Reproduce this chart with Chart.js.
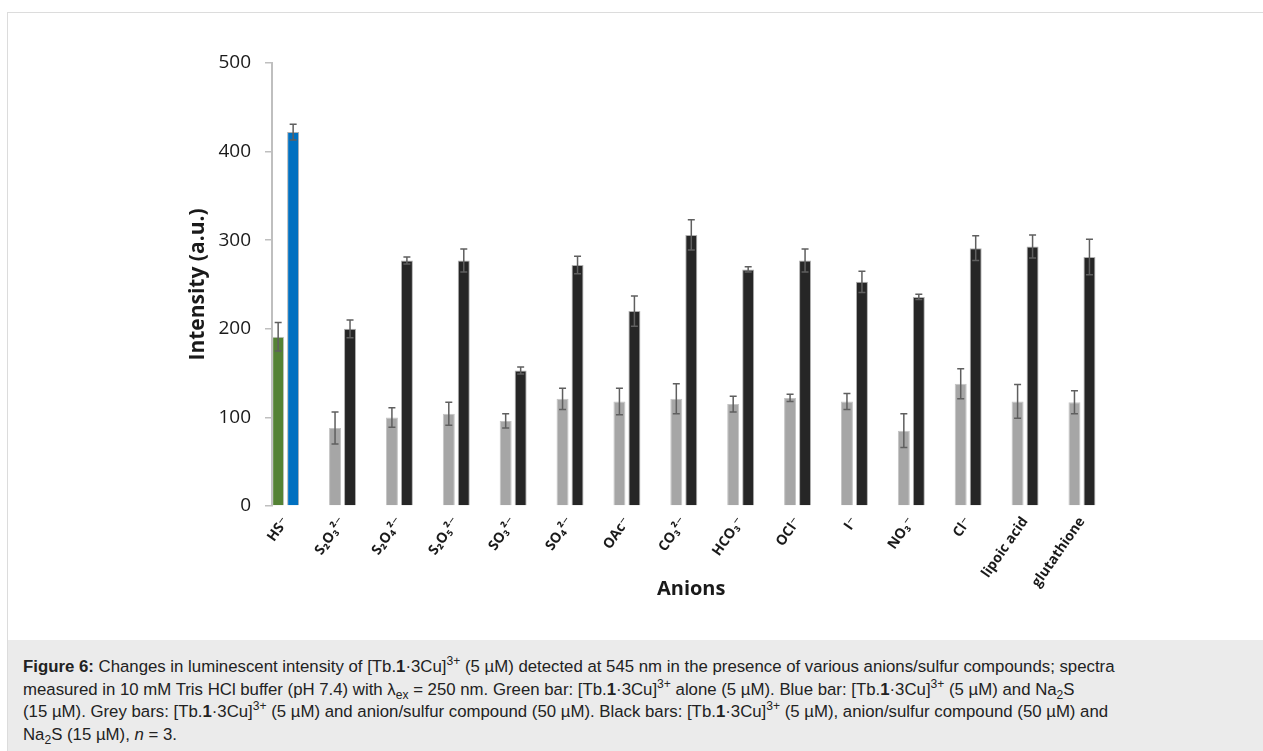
<!DOCTYPE html>
<html>
<head>
<meta charset="utf-8">
<script src="https://cdn.jsdelivr.net/npm/chart.js@4/dist/chart.umd.min.js"></script>
<style>
  html, body { margin: 0; padding: 0; background: #fff; }
  body { width: 1263px; height: 751px; position: relative; overflow: hidden; }
  #frame {
    position: absolute; left: 7px; top: 12px; width: 1256px; height: 739px;
    border-top: 1px solid #dcdcdc; border-left: 1px solid #dcdcdc;
  }
  #chartBox { position: absolute; left: 8px; top: 13px; width: 1255px; height: 627px; }
  #caption {
    position: absolute; left: 8px; top: 640px; width: 1255px; height: 111px;
    background: #ebebeb; box-sizing: border-box; padding: 16px 0 0 15px;
    font-family: "Liberation Sans", Arial, sans-serif; font-size: 16.8px;
    line-height: 22.5px; color: #222; white-space: nowrap;
  }
  #caption sup, #caption sub { font-size: 0.72em; line-height: 0; }
</style>
</head>
<body>
<div id="frame"></div>
<div id="chartBox"><canvas id="myChart" width="1255" height="627"></canvas></div>
<div id="caption">
<b>Figure 6:</b> Changes in luminescent intensity of [Tb.<b>1</b>·3Cu]<sup>3+</sup> (5 µM) detected at 545 nm in the presence of various anions/sulfur compounds; spectra<br>
measured in 10 mM Tris HCl buffer (pH 7.4) with λ<sub>ex</sub> = 250 nm. Green bar: [Tb.<b>1</b>·3Cu]<sup>3+</sup> alone (5 µM). Blue bar: [Tb.<b>1</b>·3Cu]<sup>3+</sup> (5 µM) and Na<sub>2</sub>S<br>
(15 µM). Grey bars: [Tb.<b>1</b>·3Cu]<sup>3+</sup> (5 µM) and anion/sulfur compound (50 µM). Black bars: [Tb.<b>1</b>·3Cu]<sup>3+</sup> (5 µM), anion/sulfur compound (50 µM) and<br>
Na<sub>2</sub>S (15 µM), <i>n</i> = 3.
</div>
<script>
// anions along the x axis
const anions = ['HS⁻', 'S₂O₃²⁻', 'S₂O₄²⁻', 'S₂O₅²⁻', 'SO₃²⁻', 'SO₄²⁻', 'OAc⁻', 'CO₃²⁻',
  'HCO₃⁻', 'OCl⁻', 'I⁻', 'NO₃⁻', 'Cl⁻', 'lipoic acid', 'glutathione'];

// first bar of each pair (green for HS-, grey for the others) and its error
const firstBar = [191, 88, 100, 104, 96, 121, 118, 121, 115, 122, 118, 85, 138, 118, 117];
const firstErr = [16, 18, 11, 13, 8, 12, 15, 17, 9, 4, 9, 19, 17, 19, 13];

// second bar of each pair (blue for HS-, black for the others) and its error
const secondBar = [422, 200, 277, 277, 153, 272, 220, 306, 267, 277, 253, 236, 291, 293, 281];
const secondErr = [9, 10, 4, 13, 4, 10, 17, 17, 3, 13, 12, 3, 14, 13, 20];

const yTicks = [0, 100, 200, 300, 400, 500];

const firstColors = anions.map((a, i) => i === 0 ? '#548235' : '#a6a6a6');
const secondColors = anions.map((a, i) => i === 0 ? '#0070c0' : '#262626');

// draws the error bars on top of each bar
const errorBars = {
  id: 'errorBars',
  afterDatasetsDraw(chart) {
    const ctx = chart.ctx;
    const yScale = chart.scales.y;
    chart.data.datasets.forEach((ds, di) => {
      const meta = chart.getDatasetMeta(di);
      meta.data.forEach((bar, i) => {
        const v = ds.data[i].y;
        const e = ds.errors[i];
        const top = yScale.getPixelForValue(v + e);
        const bottom = yScale.getPixelForValue(v - e);
        ctx.save();
        ctx.strokeStyle = '#5f5f5f';
        ctx.lineWidth = 1.5;
        ctx.beginPath();
        ctx.moveTo(bar.x, top);
        ctx.lineTo(bar.x, bottom);
        ctx.moveTo(bar.x - 3.5, top);
        ctx.lineTo(bar.x + 3.5, top);
        ctx.moveTo(bar.x - 3.5, bottom);
        ctx.lineTo(bar.x + 3.5, bottom);
        ctx.stroke();
        ctx.restore();
      });
    });
  }
};

const data = {
  datasets: [{
    label: 'probe / probe + anion',
    data: anions.map((a, i) => ({x: i, y: firstBar[i]})),
    errors: firstErr,
    backgroundColor: firstColors,
    borderColor: '#c4c4c4',
    borderWidth: 1,
    categoryPercentage: 0.527,
    barPercentage: 0.8
  }, {
    label: 'probe + Na2S / probe + anion + Na2S',
    data: anions.map((a, i) => ({x: i, y: secondBar[i]})),
    errors: secondErr,
    backgroundColor: secondColors,
    borderColor: '#b0b0b0',
    borderWidth: 1,
    categoryPercentage: 0.527,
    barPercentage: 0.8
  }]
};

const config = {
  type: 'bar',
  data: data,
  options: {
    responsive: false,
    animation: false,
    layout: { padding: { left: 170, top: 50, right: 152.6, bottom: 0 } },
    plugins: { legend: { display: false }, tooltip: { enabled: false } },
    scales: {
      x: {
        type: 'linear',
        offset: false,
        min: -0.24,
        max: 14.5,
        afterFit: function(scale) { scale.height = 134; },
        afterBuildTicks: function(scale) { scale.ticks = anions.map((a, i) => ({value: i})); },
        grid: { display: false, drawTicks: false, offset: false },
        border: { display: false },
        ticks: {
          autoSkip: false,
          minRotation: 55,
          maxRotation: 55,
          padding: 8,
          color: '#1a1a1a',
          font: { family: '"Open Sans", "DejaVu Sans", sans-serif', size: 14, weight: 'bold' },
          callback: function(v) { return anions[v] || ''; }
        },
        title: {
          display: true,
          text: 'Anions',
          color: '#1a1a1a',
          font: { family: '"Open Sans", sans-serif', size: 20, weight: 'bold' },
          padding: { top: 0, bottom: 39 }
        }
      },
      y: {
        min: 0,
        max: 500,
        afterFit: function(scale) { scale.width = 94; },
        afterBuildTicks: function(scale) { scale.ticks = yTicks.map(v => ({value: v})); },
        grid: { drawOnChartArea: false, drawTicks: true, tickLength: 7, color: '#bfbfbf', lineWidth: 1.5 },
        border: { display: true, color: '#bfbfbf', width: 2 },
        ticks: {
          padding: 14,
          color: '#1a1a1a',
          font: { family: '"Open Sans", sans-serif', size: 19 }
        },
        title: {
          display: true,
          text: 'Intensity (a.u.)',
          color: '#1a1a1a',
          font: { family: '"Open Sans", sans-serif', size: 21, weight: 'bold' },
          padding: { top: 7, bottom: 0 }
        }
      }
    }
  },
  plugins: [errorBars]
};

let myChart = new Chart(document.getElementById('myChart'), config);
</script>
</body>
</html>
